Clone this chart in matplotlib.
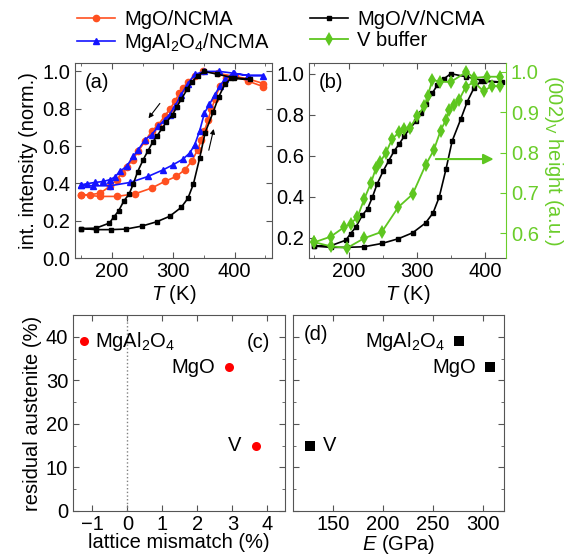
import matplotlib
matplotlib.use('Agg')
import matplotlib.pyplot as plt
from matplotlib.ticker import MultipleLocator

plt.rcParams['font.family'] = ['Liberation Sans', 'DejaVu Sans']
plt.rcParams['mathtext.fontset'] = 'custom'
plt.rcParams['mathtext.rm'] = 'Liberation Sans'
plt.rcParams['mathtext.it'] = 'Liberation Sans:italic'
plt.rcParams['font.size'] = 14.5

# temperature loops: heating branch then cooling branch
black_T = [150, 174, 198, 223, 249, 273, 294, 313, 324, 333, 343, 352, 365, 374, 384, 394, 425,
           399, 372, 350, 340, 330, 323, 313, 306, 299, 289, 282, 274, 267, 259, 251, 242, 235,
           228, 220, 211, 203, 196, 174, 150]
black_v = [0.158, 0.152, 0.152, 0.155, 0.171, 0.194, 0.223, 0.271, 0.32, 0.397, 0.534, 0.671, 0.781,
           0.862, 0.93, 0.962, 0.959,
           0.965, 0.985, 1.0, 0.975, 0.943, 0.905, 0.85, 0.81, 0.768, 0.728, 0.696, 0.655, 0.623,
           0.575, 0.526, 0.462, 0.397, 0.341, 0.308, 0.252, 0.219, 0.187, 0.16, 0.158]

orange_T = [150, 181, 208, 238, 265, 286, 305, 319, 330, 340, 346, 351, 357, 362, 368, 376, 386, 400,
            422, 447,
            447, 422, 397, 373, 349, 335, 324, 316, 310, 303, 294, 286, 276, 265, 254, 243, 234, 225,
            216, 208, 197, 181, 165, 150]
orange_v = [0.339, 0.33, 0.33, 0.344, 0.375, 0.41, 0.437, 0.473, 0.518, 0.58, 0.634, 0.68, 0.742,
            0.796, 0.85, 0.921, 0.966, 0.975, 0.948, 0.918,
            0.935, 0.96, 0.975, 0.99, 1.0, 0.975, 0.943, 0.912, 0.885, 0.84, 0.796, 0.76, 0.715,
            0.68, 0.625, 0.572, 0.527, 0.49, 0.455, 0.419, 0.384, 0.348, 0.339, 0.339]

blue_T = [150, 170, 197, 230, 259, 284, 300, 316, 327, 335, 343, 351, 359, 368, 376, 384, 397, 422,
          447,
          422, 399, 375, 351, 335, 324, 313, 303, 294, 286, 276, 265, 254, 243, 235, 224, 213, 205,
          197, 186, 173, 159, 150]
blue_v = [0.392, 0.387, 0.387, 0.405, 0.437, 0.473, 0.50, 0.53, 0.563, 0.607, 0.68, 0.778, 0.823,
          0.876, 0.921, 0.957, 0.989, 0.978, 0.978,
          0.978, 0.99, 1.0, 1.0, 0.984, 0.935, 0.876, 0.814, 0.769, 0.742, 0.706, 0.661, 0.634,
          0.58, 0.545, 0.491, 0.464, 0.434, 0.42, 0.41, 0.405, 0.398, 0.392]

green_T = [150, 174, 198, 223, 249, 273, 294, 313, 325, 335, 343, 348, 355, 362, 372, 384, 398, 410,
           422,
           422, 403, 384, 373, 350, 334, 323, 316, 311, 301, 290, 282, 274, 264, 255, 246, 240, 233,
           223, 213, 203, 194, 174, 150]
green_h = [0.578, 0.568, 0.564, 0.588, 0.604, 0.665, 0.697, 0.769, 0.806, 0.854, 0.882, 0.906, 0.919,
           0.93, 0.963, 0.975, 0.952, 0.965, 0.964,
           0.988, 0.988, 0.985, 1.0, 0.975, 0.976, 0.98, 0.94, 0.915, 0.89, 0.862, 0.858, 0.85,
           0.834, 0.80, 0.776, 0.761, 0.725, 0.685, 0.64, 0.624, 0.616, 0.592, 0.578]

# panels (c), (d)
substrates = ['MgAl$_2$O$_4$', 'MgO', 'V']
mismatch = [-1.23, 2.89, 3.66]
residual = [39, 33, 15]
modulus = [276, 307, 127]

c_black = 'black'
c_orange = '#ff5020'
c_blue = '#1414ff'
c_green = '#5ec620'
c_green_txt = '#6acd2a'
c_axis = '#555555'

W, H = 568, 558
fig = plt.figure(figsize=(W / 100, H / 100), dpi=100)


def box(l, t, r, b):
    return [l / W, 1 - b / H, (r - l) / W, (b - t) / H]


def style(ax):
    for s in ax.spines.values():
        s.set_color(c_axis)
    ax.tick_params(which='both', direction='in', top=True, right=True, color=c_axis)
    ax.tick_params(which='major', length=4)
    ax.tick_params(which='minor', length=2.5)
    ax.tick_params(axis='x', pad=3)


ax_a = fig.add_axes(box(75, 63, 272, 258))
ax_b = fig.add_axes(box(309, 63, 506, 258))
ax_c = fig.add_axes(box(73, 315, 285, 511))
ax_d = fig.add_axes(box(293, 315, 504, 511))

# (a)
la, = ax_a.plot(orange_T, orange_v, '-o', color=c_orange, ms=4.5, lw=1.2, label='MgO/NCMA')
lb, = ax_a.plot(blue_T, blue_v, '-^', color=c_blue, ms=5, lw=1.2, label='MgAl$_2$O$_4$/NCMA')
ax_a.plot(black_T, black_v, '-s', color=c_black, ms=3, lw=1.2)
ax_a.annotate('', xy=(257, 0.737), xytext=(281, 0.84),
              arrowprops=dict(arrowstyle='-|>', color='black', lw=0.8, mutation_scale=7))
ax_a.annotate('', xy=(367, 0.706), xytext=(357, 0.563),
              arrowprops=dict(arrowstyle='-|>', color='black', lw=0.8, mutation_scale=7))
ax_a.set_xlim(140, 461)
ax_a.set_ylim(0, 1.045)
ax_a.xaxis.set_major_locator(MultipleLocator(100))
ax_a.xaxis.set_minor_locator(MultipleLocator(50))
ax_a.yaxis.set_major_locator(MultipleLocator(0.2))
ax_a.set_xlabel('$T$ (K)', labelpad=1)
ax_a.set_ylabel('int. intensity (norm.)', labelpad=3)
ax_a.text(0.05, 0.95, '(a)', transform=ax_a.transAxes, va='top', ha='left')
style(ax_a)

# (b)
lc, = ax_b.plot(black_T, black_v, '-s', color=c_black, ms=3, lw=1.2, label='MgO/V/NCMA')
ax_b2 = ax_b.twinx()
ld, = ax_b2.plot(green_T, green_h, '-d', color=c_green, ms=7.5, mew=0, lw=1.3, label='V buffer')
ax_b.set_xlim(142, 431)
ax_b.set_ylim(0.1, 1.052)
ax_b2.set_ylim(0.539, 1.022)
ax_b.xaxis.set_major_locator(MultipleLocator(100))
ax_b.xaxis.set_minor_locator(MultipleLocator(50))
ax_b.yaxis.set_major_locator(MultipleLocator(0.2))
ax_b2.yaxis.set_major_locator(MultipleLocator(0.1))
ax_b.set_xlabel('$T$ (K)', labelpad=1)
ax_b.text(0.05, 0.95, '(b)', transform=ax_b.transAxes, va='top', ha='left')
style(ax_b)
ax_b.tick_params(which='both', right=False)
ax_b.spines['right'].set_visible(False)
for s in ['left', 'top', 'bottom']:
    ax_b2.spines[s].set_visible(False)
ax_b2.spines['right'].set_color(c_green_txt)
ax_b2.tick_params(direction='in', length=4, color=c_green_txt, labelcolor=c_green_txt)
ax_b2.set_ylabel('(002)$_\\mathrm{V}$ height (a.u.)', color=c_green_txt, rotation=-90, labelpad=19)
ax_b2.annotate('', xy=(417, 0.583), xytext=(324, 0.583), xycoords=ax_b.transData,
               textcoords=ax_b.transData,
               arrowprops=dict(arrowstyle='-|>', color=c_green, lw=1.5, mutation_scale=15))

# (c)
ax_c.axvline(0, ls=':', color='gray', lw=1)
ax_c.plot(mismatch, residual, 'o', color='red', ms=6.5, mew=0, ls='none')
c_offsets = [(8, 0, 'left'), (-10, 0, 'right'), (-10, 0, 'right')]
for name, x, y, (dx, dy, ha) in zip(substrates, mismatch, residual, c_offsets):
    ax_c.annotate(name, (x, y), xytext=(dx, dy), textcoords='offset points',
                  ha=ha, va='center')
ax_c.set_xlim(-1.55, 4.5)
ax_c.set_ylim(0, 45)
ax_c.xaxis.set_major_locator(MultipleLocator(1))
ax_c.yaxis.set_major_locator(MultipleLocator(10))
ax_c.yaxis.set_minor_locator(MultipleLocator(5))
ax_c.set_xlabel('lattice mismatch (%)', labelpad=-1)
ax_c.set_ylabel('residual austenite (%)', labelpad=3)
ax_c.text(0.93, 0.91, '(c)', transform=ax_c.transAxes, va='top', ha='right')
style(ax_c)

# (d)
ax_d.plot(modulus, residual, 's', color='black', ms=6.5, mew=0, ls='none')
d_offsets = [(-10, 0, 'right'), (-10, 0, 'right'), (9, 0, 'left')]
for name, x, y, (dx, dy, ha) in zip(substrates, modulus, residual, d_offsets):
    ax_d.annotate(name, (x, y), xytext=(dx, dy), textcoords='offset points',
                  ha=ha, va='center')
ax_d.set_xlim(110, 321)
ax_d.set_ylim(0, 45)
ax_d.xaxis.set_major_locator(MultipleLocator(50))
ax_d.yaxis.set_major_locator(MultipleLocator(10))
ax_d.yaxis.set_minor_locator(MultipleLocator(5))
ax_d.set_yticklabels([])
ax_d.set_xlabel('$E$ (GPa)', labelpad=-1)
ax_d.text(0.05, 0.95, '(d)', transform=ax_d.transAxes, va='top', ha='left')
style(ax_d)

# legends above the top panels
leg_kw = dict(loc='upper left', frameon=False, borderpad=0, borderaxespad=0,
              handlelength=1.9, handletextpad=0.45, labelspacing=0.1, fontsize=14.5)
fig.legend(handles=[la, lb], bbox_to_anchor=(77 / W, 1 - 10 / H), **leg_kw)
fig.legend(handles=[lc, ld], bbox_to_anchor=(310 / W, 1 - 10 / H), **leg_kw)

fig.savefig('out.png', dpi=100)
